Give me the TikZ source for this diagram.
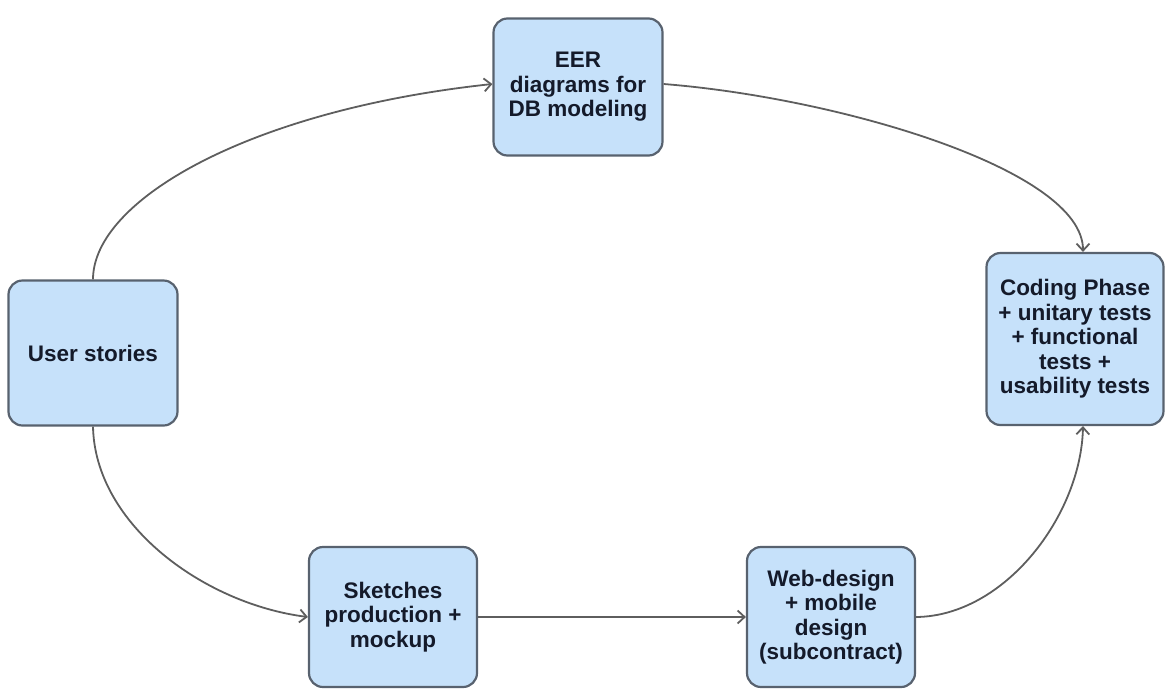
\documentclass[tikz,border=0pt]{standalone}
\usepackage{fontspec}
\setmainfont{Liberation Sans}
\usetikzlibrary{arrows.meta}
\definecolor{boxfill}{HTML}{C6E1FA}
\definecolor{boxline}{HTML}{58626F}
\definecolor{flowgray}{HTML}{5E5E5E}
\definecolor{textnavy}{HTML}{141A2A}

\begin{document}
\begin{tikzpicture}[x=1pt,y=-1pt,
	phase/.style={draw=boxline,line width=2.2pt,fill=boxfill,rounded corners=14pt,align=center,
		text=textnavy,font=\fontsize{22.5}{24.5}\selectfont\bfseries,inner sep=0pt},
	flow/.style={draw=flowgray,line width=1.8pt,-{Straight Barb[length=7pt,width=13pt]}}]
			\useasboundingbox (0,0) rectangle (1172,691);
			\node[phase,minimum width=169pt,minimum height=145pt] (user) at (93,353) {User stories};
			\node[phase,minimum width=169pt,minimum height=137pt] (eer) at (578,87) {EER\\diagrams for\\DB modeling};
			\node[phase,minimum width=177pt,minimum height=172pt] (coding) at (1075,339) {Coding Phase\\+ unitary tests\\+ functional\\tests +\\usability tests};
			\node[phase,minimum width=168pt,minimum height=140pt] (sketch) at (393,617) {Sketches\\production +\\mockup};
			\node[phase,minimum width=168pt,minimum height=140pt] (webdesign) at (831,617) {Web-design\\+ mobile\\design\\(subcontract)};
			\draw[flow] (user.north) .. controls (93,200) and (250,110) .. (eer.west |- 0,84);
			\draw[flow] (eer.east |- 0,84) .. controls (840,98) and (1083,170) .. (coding.north -| 1083,0);
			\draw[flow] (user.south) .. controls (95,525) and (205,604) .. (sketch.west);
			\draw[flow] (sketch.east) -- (webdesign.west);
			\draw[flow] (webdesign.east) .. controls (1005,616) and (1081,515) .. (coding.south -| 1083,0);
		\end{tikzpicture}
\end{document}
